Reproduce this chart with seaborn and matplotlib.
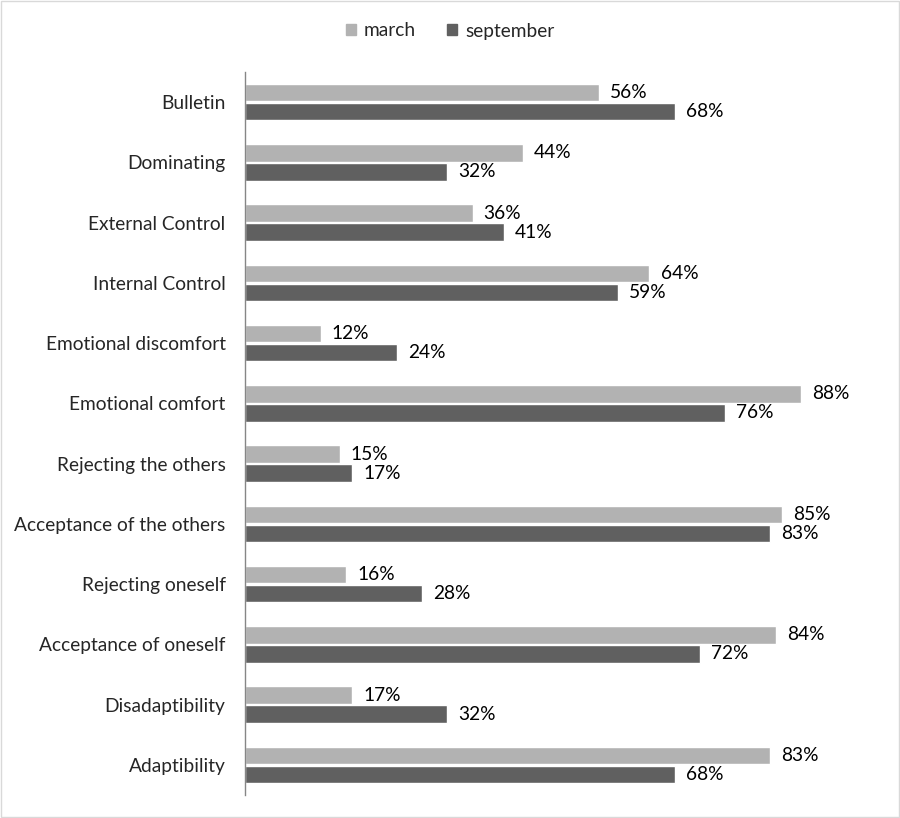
import numpy as np
import pandas as pd
import matplotlib
matplotlib.use("Agg")
import matplotlib.pyplot as plt
import seaborn as sns
from matplotlib.patches import Rectangle

categories = [
    "Bulletin", "Dominating", "External Control", "Internal Control",
    "Emotional discomfort", "Emotional comfort", "Rejecting the others",
    "Acceptance of the others", "Rejecting oneself", "Acceptance of oneself",
    "Disadaptibility", "Adaptibility",
]
march = [56, 44, 36, 64, 12, 88, 15, 85, 16, 84, 17, 83]
september = [68, 32, 41, 59, 24, 76, 17, 83, 28, 72, 32, 68]
series = ["march", "september"]
colors = ["#b2b2b2", "#606060"]

df = pd.DataFrame({
    "category": categories * 2,
    "value": [v / 100 for v in march + september],
    "period": ["march"] * len(categories) + ["september"] * len(categories),
})

sns.set_style("white")
plt.rcParams["font.family"] = ["Lato", "DejaVu Sans"]

fig = plt.figure(figsize=(9, 8.18), dpi=100)
ax = fig.add_axes([245 / 900, 1 - 795 / 818, (877 - 245) / 900, (795 - 72) / 818])

sns.barplot(data=df, y="category", x="value", hue="period", order=categories,
            hue_order=series, palette=colors, orient="h", width=0.63, gap=0.08,
            ax=ax, legend=False)

for cont in ax.containers:
    labels = [f"{b.get_width() * 100:.0f}%" for b in cont]
    ax.bar_label(cont, labels=labels, padding=8, fontsize=13.8, color="#000000")

ax.set_xlim(0, 1.0)
ax.set_ylim(len(categories) - 0.5, -0.5)
ax.set_xlabel("")
ax.set_ylabel("")
ax.set_xticks([])
ax.tick_params(axis="y", length=0, pad=14, labelsize=13.8)
for s in ["top", "right", "bottom"]:
    ax.spines[s].set_visible(False)
ax.spines["left"].set_color("#868686")
ax.spines["left"].set_linewidth(1)

handles = [Rectangle((0, 0), 1, 1, color=c) for c in colors]
fig.legend(handles, series, loc="center", bbox_to_anchor=(0.5, 1 - 31 / 818),
           ncol=2, frameon=False, fontsize=13.8, handlelength=0.55, handleheight=0.55,
           handletextpad=0.4, columnspacing=1.6)

fig.patches.append(Rectangle((0.001, 0.001), 0.998, 0.998, transform=fig.transFigure,
                             fill=False, edgecolor="#d9d9d9", linewidth=1))

fig.savefig("out.png", dpi=100)
